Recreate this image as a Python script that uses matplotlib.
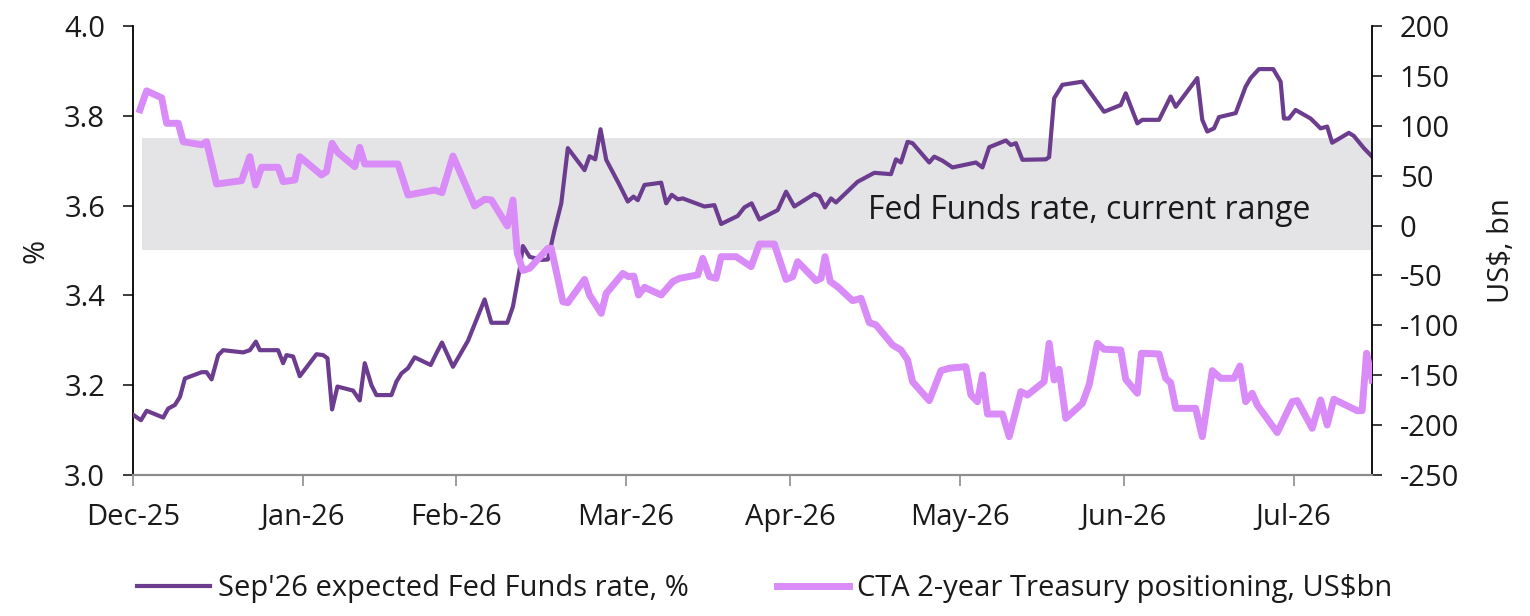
import pandas as pd
import matplotlib
matplotlib.use("Agg")
import matplotlib.pyplot as plt
import matplotlib.dates as mdates

plt.rcParams["font.family"] = ["Open Sans", "DejaVu Sans"]
plt.rcParams["axes.unicode_minus"] = False

# days since 31-Dec-2025 and values
fed_days = [0.05, 1.46, 2.50, 5.53, 6.44, 7.66, 8.58, 9.49, 12.54, 13.45,
            14.36, 15.57, 16.48, 20.13, 21.35, 22.45, 23.18, 26.51, 27.43, 28.05,
            29.25, 30.47, 33.52, 34.73, 35.53, 36.37, 37.35, 40.20, 41.42, 42.34,
            43.56, 44.47, 47.21, 48.12, 49.03, 50.24, 51.46, 54.38, 55.42, 56.44,
            58.45, 61.19, 62.72, 64.23, 65.46, 68.38, 69.40, 70.62, 71.22, 72.45,
            74.58, 75.78, 77.01, 78.23, 79.43, 82.48, 83.39, 84.43, 85.40, 86.44,
            88.87, 90.38, 91.42, 92.21, 93.43, 96.48, 97.39, 98.41, 99.51, 100.42,
            104.38, 106.20, 107.43, 110.46, 111.68, 113.0, 114.42, 117.76, 119.29, 120.80,
            124.45, 125.36, 126.40, 127.50, 128.41, 132.35, 135.40, 138.45, 139.36, 140.27,
            141.48, 142.39, 145.44, 146.35, 147.86, 149.69, 153.96, 155.16, 156.39, 159.43,
            160.35, 161.26, 162.46, 166.73, 167.34, 168.25, 169.76, 173.41, 177.37, 180.42,
            181.33, 182.85, 183.45, 184.36, 187.41, 189.54, 190.46, 194.40, 195.31, 196.22,
            197.45, 198.36, 201.41, 203.23, 204.14, 205.66, 208.27, 209.62, 210.22, 211.13,
            212.35, 215.09, 216.92, 218.12, 219.03, 222.08, 223.00, 224.82, 226.33]
fed_rate = [3.134, 3.122, 3.143, 3.128, 3.148, 3.156, 3.174, 3.215, 3.229, 3.229,
            3.213, 3.267, 3.278, 3.273, 3.278, 3.297, 3.278, 3.278, 3.249, 3.267,
            3.264, 3.220, 3.269, 3.267, 3.260, 3.146, 3.197, 3.188, 3.166, 3.249,
            3.200, 3.178, 3.178, 3.208, 3.226, 3.238, 3.262, 3.245, 3.271, 3.295,
            3.241, 3.299, 3.345, 3.391, 3.339, 3.339, 3.375, 3.457, 3.510, 3.486,
            3.479, 3.480, 3.546, 3.605, 3.728, 3.679, 3.710, 3.703, 3.770, 3.702,
            3.646, 3.609, 3.620, 3.612, 3.646, 3.651, 3.605, 3.624, 3.614, 3.616,
            3.598, 3.601, 3.559, 3.577, 3.596, 3.605, 3.569, 3.590, 3.631, 3.598,
            3.626, 3.621, 3.596, 3.616, 3.607, 3.653, 3.673, 3.670, 3.703, 3.696,
            3.742, 3.739, 3.696, 3.709, 3.700, 3.685, 3.696, 3.685, 3.730, 3.745,
            3.735, 3.739, 3.702, 3.703, 3.708, 3.839, 3.869, 3.876, 3.809, 3.824,
            3.850, 3.802, 3.783, 3.791, 3.791, 3.843, 3.820, 3.884, 3.791, 3.765,
            3.772, 3.797, 3.806, 3.865, 3.884, 3.904, 3.904, 3.876, 3.794, 3.794,
            3.813, 3.794, 3.772, 3.776, 3.740, 3.762, 3.755, 3.728, 3.709]

cta_days = [1.28, 2.50, 5.24, 6.15, 8.27, 9.18, 12.54, 13.45, 15.27, 19.84,
            21.35, 22.39, 23.49, 26.51, 27.43, 29.56, 30.47, 34.43, 35.35, 36.37,
            37.46, 40.51, 41.42, 42.34, 48.41, 50.24, 55.11, 56.44, 58.45, 62.41,
            64.23, 65.46, 68.38, 69.40, 70.20, 71.22, 72.45, 75.78, 76.40, 78.52,
            79.43, 82.48, 83.39, 85.53, 86.44, 89.47, 90.51, 91.48, 92.34, 93.43,
            96.48, 98.59, 99.82, 103.16, 104.07, 105.29, 106.51, 107.43, 110.16, 112.90,
            114.42, 117.15, 119.29, 120.49, 121.40, 124.76, 125.67, 126.40, 127.37, 128.70,
            131.44, 132.98, 134.49, 135.71, 138.74, 140.27, 141.48, 142.39, 145.44, 147.57,
            149.09, 152.13, 153.05, 154.25, 155.16, 156.08, 158.82, 160.04, 162.17, 163.38,
            166.42, 167.34, 168.25, 169.16, 170.38, 173.41, 174.64, 176.15, 177.37, 180.42,
            181.33, 183.45, 184.18, 187.41, 188.63, 189.54, 190.46, 194.10, 195.31, 197.14,
            198.67, 201.09, 202.19, 203.23, 204.43, 205.35, 209.00, 211.73, 212.65, 215.38,
            216.92, 218.12, 219.34, 223.59, 224.50, 225.31, 226.33]
cta_pos = [116, 135, 128, 102.5, 102.5, 84, 81, 84, 41.6, 45,
           69, 40.6, 58.4, 58.4, 44, 45.7, 69, 50.7, 54, 82.4,
           73, 59, 78.4, 61.7, 61.7, 30.6, 35.6, 33, 69.7, 19.6,
           26.3, 25.6, -0.4, 25.6, -27.8, -45, -42.8, -22.8, -22.8, -76.3,
           -77.3, -54, -69.6, -88, -68, -48, -51.2, -50.6, -69.6, -61.9,
           -69.6, -56.2, -52.9, -49.5, -32.9, -51.2, -52.9, -31.2, -31.2, -41.2,
           -18.5, -18.5, -54, -51.2, -36.2, -55.2, -52.9, -31.2, -56.2, -61.3,
           -75.3, -72.9, -97.3, -99.6, -119.7, -124.7, -134.7, -156.5, -175.5, -145.5,
           -143, -141.4, -169.8, -176.5, -149.8, -188.9, -188.9, -211.6, -166.5, -169.8,
           -156.5, -118, -154.8, -144, -193.2, -178.2, -159.8, -118, -124, -124.7,
           -154.1, -168.1, -128, -128.7, -153.1, -157.5, -183.2, -183.2, -211.6, -145.5,
           -153.1, -153.1, -140.8, -176.5, -168.1, -179.8, -207.5, -176.5, -175.5, -203.2,
           -174.8, -199.9, -174.1, -185.5, -185.5, -128, -154.8]

fed_range = [3.5, 3.75]
band_start_day = 1.6
x_end_day = 226.3

base = pd.Timestamp("2025-12-31")
fed_dates = base + pd.to_timedelta(fed_days, unit="D")
cta_dates = base + pd.to_timedelta(cta_days, unit="D")
x_end = base + pd.Timedelta(days=x_end_day)
band_start = base + pd.Timedelta(days=band_start_day)

dark = "#6c3d8e"
light = "#d98bf7"
txt = "#1a1a1a"

fig = plt.figure(figsize=(15.3, 6.16), dpi=100)
ax = fig.add_axes([0.0869, 0.2289, 0.8098, 0.7289])
ax2 = ax.twinx()

#gray band for the current fed funds range
ax.fill_between([band_start, x_end], fed_range[0], fed_range[1],
                color="#e4e4e6", linewidth=0, zorder=0)
ax.text(base + pd.Timedelta(days=134.3), 3.59, "Fed Funds rate, current range",
        fontsize=23, color=txt, va="center", ha="left")

l1, = ax.plot(fed_dates, fed_rate, color=dark, linewidth=3.0,
              label="Sep'26 expected Fed Funds rate, %", zorder=3)
l2, = ax2.plot(cta_dates, cta_pos, color=light, linewidth=5.0,
               label="CTA 2-year Treasury positioning, US$bn", zorder=3)

ax.set_xlim(base, x_end)
ax.set_ylim(3.0, 4.0)
ax.set_yticks([3.0, 3.2, 3.4, 3.6, 3.8, 4.0])
ax.yaxis.set_major_formatter(matplotlib.ticker.FormatStrFormatter("%.1f"))
ax2.set_ylim(-250, 200)
ax2.set_yticks(range(-250, 201, 50))

# month-end ticks
month_ends = pd.date_range("2025-12-31", "2026-07-31", freq="ME")
ax.set_xticks(month_ends)
ax.xaxis.set_major_formatter(mdates.DateFormatter("%b-%y"))

for a in (ax, ax2):
    a.spines["top"].set_visible(False)
    a.spines["bottom"].set_color("#8c8c8c")
    a.spines["bottom"].set_linewidth(1.5)
ax.spines["left"].set_linewidth(1.3)
ax2.spines["right"].set_linewidth(1.3)
ax.spines["right"].set_visible(False)
ax2.spines["left"].set_visible(False)

ax.tick_params(axis="y", labelsize=21, length=7, width=1.2, pad=13, colors=txt)
ax2.tick_params(axis="y", labelsize=21, length=7, width=1.2, pad=13, colors=txt)
ax.tick_params(axis="x", labelsize=21, length=8, width=1.2, pad=12,
               color="#8c8c8c", labelcolor=txt)

ax.set_ylabel("%", fontsize=21, labelpad=10, color=txt)
ax2.set_ylabel("US$, bn", fontsize=21, labelpad=20, color=txt)

fig.legend(handles=[l1, l2], loc="center", bbox_to_anchor=(0.5, 0.045), ncol=2,
           frameon=False, fontsize=21, handlelength=2.5, columnspacing=3.0,
           handletextpad=0.27, labelcolor=txt)

fig.savefig("out.png", dpi=100)
